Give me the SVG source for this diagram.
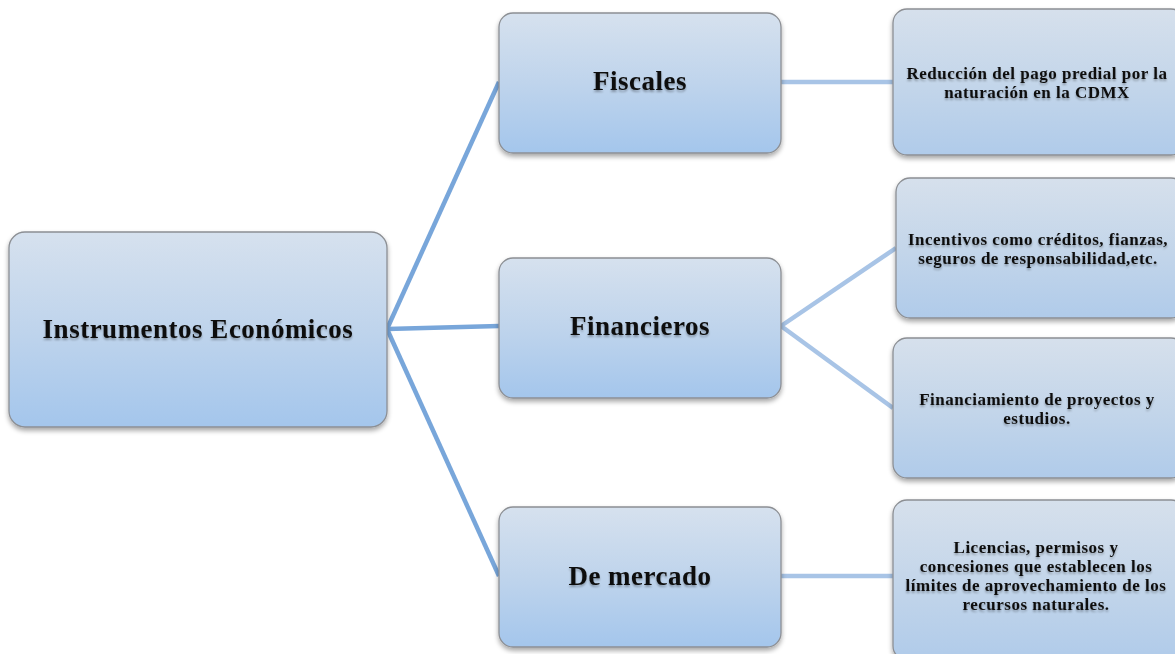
<svg xmlns="http://www.w3.org/2000/svg" width="1175" height="654" viewBox="0 0 1175 654">
  <defs>
    <linearGradient id="boxFill" x1="0" y1="0" x2="0" y2="1">
      <stop offset="0" stop-color="#d6e1ee"/>
      <stop offset="0.5" stop-color="#bfd4ec"/>
      <stop offset="1" stop-color="#a4c6ec"/>
    </linearGradient>
    <linearGradient id="leafFill" x1="0" y1="0" x2="0" y2="1">
      <stop offset="0" stop-color="#d6e0ec"/>
      <stop offset="0.5" stop-color="#c4d6ea"/>
      <stop offset="1" stop-color="#b0cbea"/>
    </linearGradient>
    <filter id="boxShadow" x="-10%" y="-10%" width="120%" height="130%">
      <feGaussianBlur in="SourceAlpha" stdDeviation="2.5"/>
      <feOffset dx="0" dy="3" result="b"/>
      <feComponentTransfer><feFuncA type="linear" slope="0.35"/></feComponentTransfer>
      <feMerge><feMergeNode/><feMergeNode in="SourceGraphic"/></feMerge>
    </filter>
    <filter id="textShadow" x="-5%" y="-20%" width="110%" height="150%">
      <feGaussianBlur in="SourceAlpha" stdDeviation="1.2"/>
      <feOffset dx="0" dy="1.5"/>
      <feComponentTransfer><feFuncA type="linear" slope="0.3"/></feComponentTransfer>
      <feMerge><feMergeNode/><feMergeNode in="SourceGraphic"/></feMerge>
    </filter>
  </defs>
  <style>
    .box { fill: url(#boxFill); stroke: #8c8f94; stroke-width: 1.3; filter: url(#boxShadow); }
    .leaf { fill: url(#leafFill); }
    .label { font-family: "Liberation Serif", "DejaVu Serif", serif; font-weight: bold; fill: #111; text-anchor: middle; filter: url(#textShadow); }
    .big { font-size: 27px; letter-spacing: 0.5px; }
    .small { font-size: 17px; letter-spacing: 0.5px; }
    .lvl1 { stroke: #78a6da; stroke-width: 4.5; fill: none; }
    .lvl2 { stroke: #a8c4e6; stroke-width: 4.5; fill: none; }
  </style>
  <rect width="1175" height="654" fill="#ffffff"/>

  <g id="connectors">
    <line class="lvl1" x1="387" y1="329" x2="499" y2="82"/>
    <line class="lvl1" x1="387" y1="329" x2="499" y2="326"/>
    <line class="lvl1" x1="387" y1="329" x2="499" y2="576"/>
    <line class="lvl2" x1="781" y1="82" x2="893" y2="82"/>
    <line class="lvl2" x1="781" y1="326" x2="896" y2="248"/>
    <line class="lvl2" x1="781" y1="326" x2="893" y2="408"/>
    <line class="lvl2" x1="781" y1="576" x2="893" y2="576"/>
  </g>

  <g id="instrumentos">
    <rect class="box" x="9" y="232" width="378" height="195" rx="16"/>
    <text class="label big" x="198" y="338">Instrumentos Económicos</text>
  </g>

  <g id="fiscales">
    <rect class="box" x="499" y="13" width="282" height="140" rx="14"/>
    <text class="label big" x="640" y="90">Fiscales</text>
  </g>

  <g id="financieros">
    <rect class="box" x="499" y="258" width="282" height="140" rx="14"/>
    <text class="label big" x="640" y="335">Financieros</text>
  </g>

  <g id="mercado">
    <rect class="box" x="499" y="507" width="282" height="140" rx="14"/>
    <text class="label big" x="640" y="585">De mercado</text>
  </g>

  <g id="predial">
    <rect class="box leaf" x="893" y="9" width="292" height="146" rx="14"/>
    <text class="label small" x="1037" y="79">Reducción del pago predial por la</text>
    <text class="label small" x="1037" y="98">naturación en la CDMX</text>
  </g>

  <g id="incentivos">
    <rect class="box leaf" x="896" y="178" width="289" height="140" rx="14"/>
    <text class="label small" x="1038" y="245">Incentivos como créditos, fianzas,</text>
    <text class="label small" x="1038" y="264">seguros de responsabilidad,etc.</text>
  </g>

  <g id="financiamiento">
    <rect class="box leaf" x="893" y="338" width="292" height="140" rx="14"/>
    <text class="label small" x="1037" y="405">Financiamiento de proyectos y</text>
    <text class="label small" x="1037" y="424">estudios.</text>
  </g>

  <g id="licencias">
    <rect class="box leaf" x="893" y="500" width="292" height="160" rx="14"/>
    <text class="label small" x="1036" y="553">Licencias, permisos y</text>
    <text class="label small" x="1036" y="572">concesiones que establecen los</text>
    <text class="label small" x="1036" y="591">límites de aprovechamiento de los</text>
    <text class="label small" x="1036" y="610">recursos naturales.</text>
  </g>
</svg>
